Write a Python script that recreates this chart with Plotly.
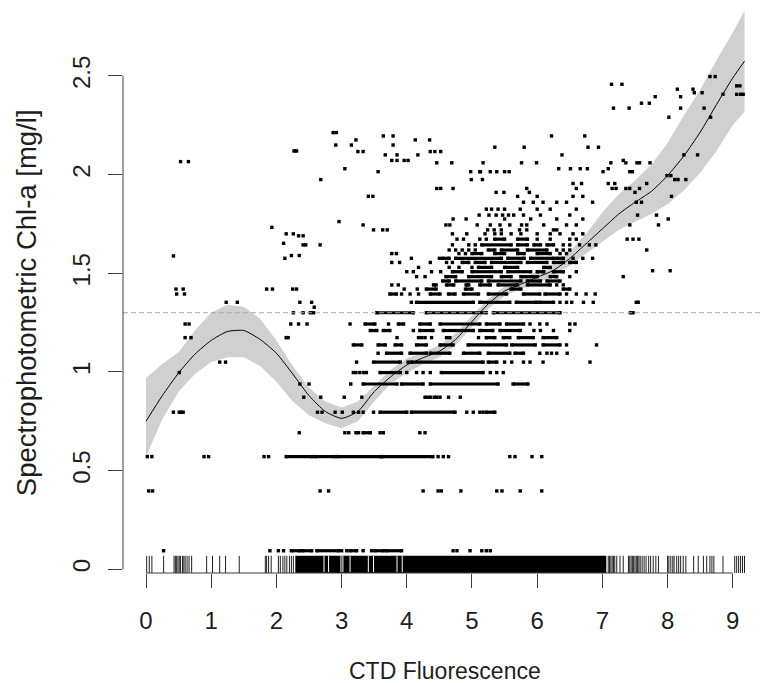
import plotly.graph_objects as go

# ---------------- smooth fit with confidence band ----------------
fit_x = [0, 0.25, 0.5, 0.75, 1.0, 1.25, 1.5, 1.75, 2.0, 2.25, 2.5, 2.75, 3.0, 3.25, 3.5,
         3.75, 4.0, 4.25, 4.5, 4.75, 5.0, 5.25, 5.5, 5.75, 6.0, 6.25, 6.5, 6.75, 7.0,
         7.25, 7.5, 7.75, 8.0, 8.25, 8.5, 8.75, 9.0, 9.18]
fit_y = [0.75, 0.88, 0.995, 1.09, 1.16, 1.205, 1.21, 1.165, 1.095, 0.99, 0.88, 0.80, 0.765,
         0.80, 0.90, 0.975, 1.035, 1.072, 1.105, 1.165, 1.255, 1.345, 1.41, 1.445, 1.48, 1.515,
         1.575, 1.65, 1.725, 1.80, 1.86, 1.915, 1.995, 2.095, 2.215, 2.355, 2.49, 2.575]
fit_lo = [0.57, 0.76, 0.90, 0.99, 1.05, 1.075, 1.075, 1.03, 0.95, 0.85, 0.78, 0.74, 0.715,
          0.75, 0.85, 0.94, 0.995, 1.04, 1.075, 1.135, 1.225, 1.32, 1.385, 1.42, 1.45, 1.485,
          1.54, 1.60, 1.66, 1.72, 1.76, 1.80, 1.85, 1.92, 2.01, 2.12, 2.25, 2.32]
fit_hi = [0.97, 1.04, 1.10, 1.21, 1.30, 1.34, 1.33, 1.27, 1.16, 1.03, 0.92, 0.85, 0.82,
          0.85, 0.93, 1.01, 1.07, 1.10, 1.135, 1.195, 1.285, 1.37, 1.435, 1.47, 1.51, 1.545,
          1.61, 1.70, 1.81, 1.90, 1.97, 2.05, 2.16, 2.30, 2.43, 2.58, 2.72, 2.83]

ref_level = 1.3

# ---------------- scatter points, grouped by (quantised) y level ----------------
row_y = [0.094, 0.397, 0.571, 0.692, 0.796, 0.872, 0.939, 0.997, 1.05, 1.095, 1.137, 1.174,
         1.21, 1.243, 1.30, 1.328, 1.353, 1.395, 1.42, 1.441, 1.461, 1.483, 1.508, 1.513,
         1.53, 1.555, 1.576, 1.588, 1.59, 1.60, 1.618, 1.644, 1.652, 1.673, 1.69, 1.70, 1.72,
         1.733, 1.745, 1.762, 1.775, 1.795, 1.825, 1.86, 1.89, 1.91, 1.93, 1.955, 1.975,
         1.995, 2.015, 2.03, 2.06, 2.066, 2.072, 2.10, 2.117, 2.12, 2.139, 2.15, 2.176,
         2.196, 2.213, 2.291, 2.337, 2.362, 2.395, 2.407, 2.415, 2.433, 2.45, 2.458, 2.497]

row_pts = [
    [0.27, 1.90, 2.03, 2.11, 3.00, 3.08, 3.33, 3.46, 4.71, 4.77, 4.97, 5.15, 5.22, 5.28],
    [0.04, 0.10, 2.67, 2.80, 4.25, 4.48, 4.53, 4.83, 5.38, 5.46, 5.74, 6.07],
    [0.02, 0.09, 0.89, 0.96, 1.81, 1.88, 4.48, 4.56, 4.64, 5.58, 5.66, 5.92, 6.07],
    [2.35, 3.05, 3.11, 3.22, 3.26, 3.59, 3.64, 4.20, 4.28],
    [0.42, 0.51, 0.54, 0.57, 2.63, 2.70, 2.90, 3.01, 3.18, 3.26, 3.33, 3.49, 4.92, 5.02, 5.12, 5.17],
    [2.42, 2.68, 3.04, 3.31, 4.42, 4.46, 4.51, 4.64, 4.82],
    [2.36, 2.50, 3.14],
    [0.51, 3.18, 3.22, 3.28, 3.34, 3.38, 4.00, 4.15, 4.25, 4.36, 5.28, 5.38, 5.48],
    [1.13, 1.22, 3.23, 4.02, 5.50, 5.61, 5.79, 5.89, 6.09, 6.81],
    [3.56, 6.04, 6.15, 6.22, 6.30, 6.46],
    [6.45, 6.91],
    [0.60, 0.69, 2.15, 2.18, 3.85, 4.18, 4.23, 4.28, 4.38, 4.61, 4.66, 5.10],
    [4.10, 5.95, 6.05, 6.25, 6.50],
    [0.60, 0.66, 2.22, 2.34, 2.47, 3.13, 3.72, 5.89, 6.04, 6.15, 6.50, 6.58],
    [2.26, 2.41, 2.52, 2.57, 7.43, 7.47],
    [2.58],
    [1.23, 1.40, 2.36, 2.54, 4.07, 6.35, 6.45, 6.53, 6.71, 6.86, 7.52, 7.55],
    [0.47, 0.59, 3.92, 4.05, 4.18, 6.45, 6.60, 6.75, 6.89],
    [0.46, 0.57, 1.85, 1.94, 2.25, 2.31, 3.96, 4.16],
    [3.77, 3.87, 6.30, 6.40],
    [],
    [4.15, 4.28, 6.50, 7.32],
    [4.00, 4.10, 4.38, 4.52, 6.60],
    [7.77, 8.04],
    [4.18, 4.65, 4.80, 5.00],
    [3.77, 3.89, 4.36, 4.61, 4.70],
    [2.13, 4.07, 4.50, 6.55, 6.70, 6.85],
    [0.42],
    [2.23, 2.35],
    [3.77, 3.84, 4.80, 4.90, 6.35, 6.45],
    [4.65, 4.75, 4.85, 4.95, 5.05, 6.30, 6.40, 6.50, 7.68],
    [2.41, 2.45, 2.67, 4.70, 4.95, 5.05, 6.40, 6.50, 6.65, 6.80, 6.90],
    [2.11],
    [4.77, 4.87, 5.12, 5.22, 6.00, 6.20, 6.50, 6.60, 7.38, 7.47, 7.56],
    [2.34, 2.41],
    [2.15, 2.26, 4.70, 4.92, 5.20, 5.35, 5.45, 5.60, 5.75, 6.00, 6.20, 6.35, 6.55, 6.70],
    [3.49, 3.63, 3.70, 5.24, 5.34, 5.45, 5.73, 5.84, 6.25, 6.30],
    [1.93],
    [3.33, 4.60, 4.66, 5.08, 5.28, 5.43, 5.58, 5.76, 5.84, 6.10, 6.45, 6.60, 7.42, 7.86],
    [2.96],
    [4.71, 4.91, 5.50, 5.90, 6.30, 6.70, 8.01],
    [5.11, 5.26, 5.37, 5.47, 5.56, 5.64, 5.79, 6.05, 6.50, 7.54, 7.83],
    [5.22, 5.30, 5.40, 5.50, 5.74, 6.00, 6.20, 6.60],
    [5.79, 5.94, 6.09, 6.30, 6.45, 6.85, 7.52, 7.60],
    [3.41, 3.48, 5.70, 6.00, 6.55, 6.70, 8.06],
    [5.37, 5.49, 5.88, 7.50],
    [4.46, 4.52, 4.71, 5.84, 6.60, 7.15, 7.21, 7.36, 7.42, 7.57],
    [6.55, 6.68, 7.09, 7.19, 7.68],
    [2.68, 4.99, 5.16, 8.11, 8.16, 8.28],
    [7.99, 8.05],
    [3.56, 4.98, 5.12, 5.13, 5.28, 5.38, 5.50, 5.57, 7.01, 7.42, 7.46],
    [3.05, 6.33, 6.51, 6.66, 6.77, 7.09],
    [4.46, 4.69, 5.17, 5.76, 5.99, 7.13, 7.36, 7.53, 7.57, 7.73],
    [0.53, 0.65],
    [3.77, 3.85, 3.96, 4.02, 7.32],
    [3.67, 3.85, 4.17, 6.38, 8.25, 8.46],
    [3.25, 3.33, 4.36, 4.43, 4.52],
    [],
    [5.35, 5.80, 6.78, 6.94],
    [2.91, 3.15, 3.79],
    [3.22, 4.13, 4.35],
    [3.64, 3.79, 6.22, 6.73],
    [2.87, 2.92],
    [8.02, 8.66],
    [7.17, 7.41, 8.20, 8.56],
    [7.60, 7.72],
    [7.81, 8.20],
    [8.85, 9.06, 9.12, 9.16],
    [8.41, 8.53],
    [8.15, 8.39],
    [9.06, 9.11],
    [7.14, 7.30],
    [8.65, 8.73],
]

# horizontal runs of adjacent points (x_start, x_end) on each level
row_runs = [
    [(2.23, 2.36), (2.40, 2.54), (2.62, 2.95), (3.13, 3.23), (3.51, 3.64), (3.69, 3.92)],
    [],
    [(2.15, 2.55), (2.60, 2.90), (2.94, 3.60), (3.62, 4.40)],
    [(3.33, 3.44)],
    [(3.59, 4.00), (4.07, 4.74), (5.22, 5.35)],
    [(4.28, 4.36)],
    [(3.33, 3.85), (3.92, 4.25), (4.36, 5.40), (5.63, 5.86)],
    [(3.59, 3.90), (4.53, 5.17)],
    [(3.49, 3.90), (4.07, 5.17), (5.25, 5.38)],
    [(3.69, 3.92), (4.05, 4.30), (4.36, 4.66), (4.87, 5.12), (5.25, 5.58), (5.66, 5.79)],
    [(3.18, 3.31), (3.56, 3.67), (3.82, 3.92), (4.15, 4.30), (4.51, 4.71), (4.94, 5.53),
     (5.61, 5.97), (6.09, 6.35)],
    [(5.22, 5.35), (5.48, 5.58), (5.71, 5.94), (6.09, 6.30)],
    [(3.44, 3.54), (3.64, 3.74), (4.20, 4.40), (4.56, 5.02), (5.12, 5.32), (5.43, 5.74)],
    [(3.36, 3.51), (3.87, 3.95), (4.20, 4.36), (4.51, 5.12), (5.22, 5.43), (5.53, 5.79)],
    [(3.54, 4.10), (4.30, 5.22), (5.33, 6.35)],
    [],
    [(4.15, 5.02), (5.12, 5.58), (5.68, 5.99), (6.04, 6.25)],
    [(3.74, 3.84), (4.36, 4.51), (4.64, 4.74), (4.87, 5.10), (5.25, 5.53), (5.79, 6.04),
     (6.12, 6.35)],
    [(4.30, 4.45), (4.90, 5.00), (5.60, 5.75), (6.40, 6.50)],
    [(4.41, 4.45), (4.61, 4.72), (4.91, 4.95), (5.12, 5.28), (5.40, 5.70), (5.85, 6.20)],
    [(4.55, 4.65), (4.75, 5.15), (5.25, 5.75), (5.85, 6.05), (6.15, 6.35)],
    [(4.60, 4.75), (4.95, 5.30), (5.45, 5.60), (5.75, 6.00), (6.20, 6.30)],
    [(4.70, 4.85), (5.00, 5.45), (5.55, 5.90), (6.00, 6.10), (6.25, 6.40)],
    [],
    [(5.10, 5.30), (5.50, 5.70), (6.10, 6.20)],
    [(4.85, 4.95), (5.05, 5.20), (5.30, 5.75), (5.85, 6.15), (6.25, 6.40), (6.50, 6.60)],
    [(4.55, 4.65), (4.75, 5.45), (5.55, 5.80), (5.90, 6.25), (6.30, 6.40)],
    [],
    [],
    [(5.00, 5.15), (5.35, 5.50), (5.70, 5.80), (6.00, 6.20)],
    [(5.25, 5.35), (5.45, 5.70), (5.85, 6.15)],
    [(5.15, 5.60), (5.70, 5.85), (5.95, 6.05), (6.15, 6.25)],
    [],
    [(5.35, 5.50), (5.70, 5.85)],
] + [[] for _ in range(23)] + [[(2.27, 2.31)]] + [[] for _ in range(15)]

# ---------------- rug (CTD fluorescence values) ----------------
rug_x = [0.01, 0.05, 0.09, 0.27, 0.43, 0.45, 0.47, 0.49, 0.51, 0.53, 0.56, 0.58, 0.60, 0.63,
         0.66, 0.70, 0.93, 1.02, 1.13, 1.22, 1.43, 1.83, 1.85, 1.88, 1.92, 2.03, 2.06, 2.10,
         2.13, 2.16, 2.20, 2.23, 2.26,
         7.09, 7.11, 7.13, 7.15, 7.17, 7.19, 7.22, 7.27, 7.32, 7.40, 7.42, 7.44, 7.46, 7.48,
         7.50, 7.52, 7.54, 7.56, 7.58, 7.61, 7.64, 7.67, 7.71, 7.74, 7.78, 7.82, 7.86,
         8.00, 8.02, 8.05, 8.08, 8.10, 8.14, 8.17, 8.20, 8.24, 8.28,
         8.40, 8.47, 8.55, 8.60, 8.65, 8.68, 8.71, 8.85,
         9.03, 9.06, 9.09, 9.12, 9.15, 9.18]
rug_block = [2.29, 7.06]
rug_gaps = [2.73, 2.80, 2.99, 3.02, 3.13, 3.41, 3.49, 3.85, 3.93]

x_ticks = [0, 1, 2, 3, 4, 5, 6, 7, 8, 9]
y_ticks = [0, 0.5, 1, 1.5, 2, 2.5]
y_ticktext = ["0", "0.5", "1", "1.5", "2", "2.5"]
x_title = "CTD Fluorescence"
y_title = "Spectrophotometric Chl-a [mg/l]"

X_RANGE = [-0.353, 9.433]
Y_RANGE = [-0.0188, 2.885]

FONT = "Liberation Sans, Arial, sans-serif"
TXT = "#1e1e1e"
AX = "#3c3c3c"

# ---------------- build traces ----------------
fig = go.Figure()

# confidence band
fig.add_trace(go.Scatter(
    x=fit_x + fit_x[::-1], y=fit_hi + fit_lo[::-1],
    fill="toself", fillcolor="#d0d0d0", line=dict(width=0),
    mode="lines", hoverinfo="skip", showlegend=False))

# rug
rug_bot = Y_RANGE[0]
rug_top = Y_RANGE[0] + 0.03 * (Y_RANGE[1] - Y_RANGE[0])
rx, ry = [], []
for v in rug_x:
    rx += [v, v, None]
    ry += [rug_bot, rug_top, None]
fig.add_trace(go.Scatter(x=rx, y=ry, mode="lines", line=dict(color="#222", width=1),
                         hoverinfo="skip", showlegend=False))
fig.add_trace(go.Scatter(
    x=[rug_block[0], rug_block[1], rug_block[1], rug_block[0], rug_block[0]],
    y=[rug_bot, rug_bot, rug_top, rug_top, rug_bot],
    fill="toself", fillcolor="#000", line=dict(width=0), mode="lines",
    hoverinfo="skip", showlegend=False))
gx, gy = [], []
for v in rug_gaps:
    gx += [v, v, None]
    gy += [rug_bot + 0.004, rug_top, None]
fig.add_trace(go.Scatter(x=gx, y=gy, mode="lines", line=dict(color="#ffffff", width=1),
                         hoverinfo="skip", showlegend=False))

# runs of dots
lx, ly = [], []
for yv, runs in zip(row_y, row_runs):
    for a, b in runs:
        lx += [a, b, None]
        ly += [yv, yv, None]
fig.add_trace(go.Scatter(x=lx, y=ly, mode="lines+markers",
                         line=dict(color="#000", width=3.2),
                         marker=dict(symbol="square", size=3.4, color="#000", line=dict(width=0)),
                         hoverinfo="skip", showlegend=False))

# individual dots
px, py = [], []
for yv, xs in zip(row_y, row_pts):
    for xv in xs:
        px.append(xv)
        py.append(yv)
fig.add_trace(go.Scatter(x=px, y=py, mode="markers",
                         marker=dict(symbol="square", size=3.4, color="#000", line=dict(width=0)),
                         hoverinfo="skip", showlegend=False))

# fitted curve
fig.add_trace(go.Scatter(x=fit_x, y=fit_y, mode="lines",
                         line=dict(color="#000", width=1, shape="spline", smoothing=0.6),
                         hoverinfo="skip", showlegend=False))

# ---------------- layout ----------------
shapes = [
    dict(type="line", xref="paper", x0=0, x1=1, yref="y", y0=ref_level, y1=ref_level,
         line=dict(color="#a8a8a8", width=1, dash="5px,3px")),
    dict(type="line", xref="x", x0=x_ticks[0], x1=x_ticks[-1], yref="paper", y0=0, y1=0,
         line=dict(color=AX, width=1)),
    dict(type="line", xref="paper", x0=0, x1=0, yref="y", y0=y_ticks[0], y1=y_ticks[-1],
         line=dict(color=AX, width=1)),
]

fig.update_layout(
    width=761, height=683,
    margin=dict(l=123, r=0, t=0, b=110, pad=0),
    paper_bgcolor="white", plot_bgcolor="white",
    font=dict(family=FONT, size=24, color=TXT),
    shapes=shapes,
    showlegend=False,
    xaxis=dict(range=X_RANGE, tickvals=x_ticks, ticks="outside", ticklen=14, tickwidth=1,
               tickcolor=AX, showgrid=False, zeroline=False, showline=False,
               tickfont=dict(size=24, color=TXT, family=FONT), ticklabelstandoff=12),
    yaxis=dict(range=Y_RANGE, tickvals=y_ticks, ticktext=y_ticktext, ticks="outside",
               ticklen=14, tickwidth=1, tickcolor=AX, showgrid=False, zeroline=False,
               showline=False, tickangle=-90,
               tickfont=dict(size=24, color=TXT, family=FONT), ticklabelstandoff=8),
    annotations=[
        dict(text=x_title, xref="paper", yref="paper", x=0.505, y=-0.171,
             xanchor="center", yanchor="middle", showarrow=False,
             font=dict(size=23, color=TXT, family=FONT)),
        dict(text=y_title, xref="paper", yref="paper", x=-0.152, y=0.471,
             xanchor="center", yanchor="middle", textangle=-90, showarrow=False,
             font=dict(size=27.5, color=TXT, family=FONT)),
    ],
)

fig.write_html("out.html")
